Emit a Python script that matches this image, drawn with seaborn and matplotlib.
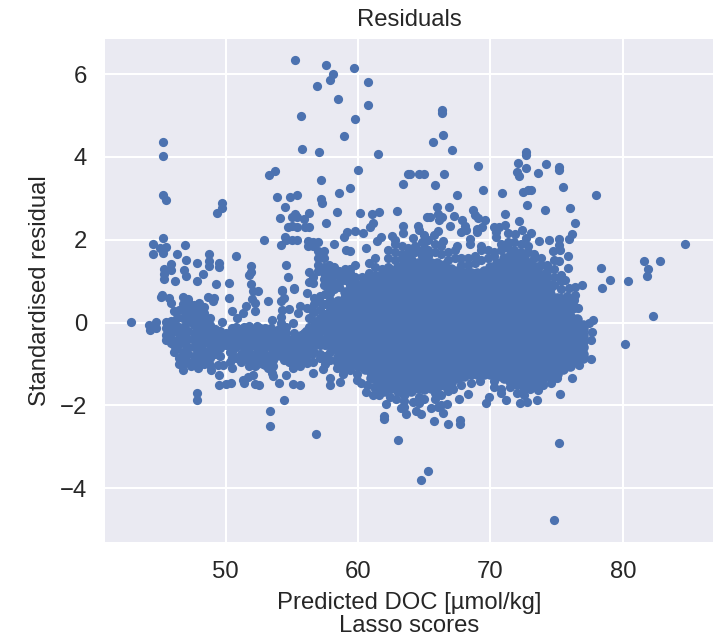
import matplotlib
matplotlib.use("Agg")
import matplotlib.pyplot as plt
import pandas as pd
import seaborn as sns

# Isolated points
outlier_x = [55.21,57.62,59.69,58.15,57.92,60.77,56.92,58.48,60.79,55.66,59.76,58.91,45.30,45.30,55.79,57.04,61.50,53.25,53.77,60.01,63.79,57.17,63.36,59.41,58.60,55.38,54.83,53.90,45.30,45.52,57.17,57.30,49.70,49.77,49.32,54.48,58.45,56.31,60.16,62.98,61.02,61.55,55.23,54.98,55.36,54.13,55.94,57.62,61.14,60.89,63.36,54.73,54.98,55.36,55.99,56.29,59.81,59.16,58.96,60.39,63.36,54.48,54.60,54.98,55.36,54.18,52.87,45.30,44.54,44.54,45.04,45.47,45.30,46.93,46.35,46.98,47.84,48.77,48.77,48.77,49.52,49.52,50.78,45.87,45.37,45.87,45.37,45.37,46.18,46.86,47.03,47.84,48.29,49.27,50.23,51.89,51.89,51.79,51.91,54.53,54.75,56.29,56.29,54.28,55.16,58.2,59.13,59.38,60.59,61.40,61.77,62.53,62.78,
66.33,66.33,66.43,65.67,67.08,72.69,72.69,72.09,74.18,72.67,75.18,75.18,69.07,72.04,72.16,73.62,63.89,64.64,65.02,66.53,65.80,67.46,69.40,70.86,72.47,72.82,73.07,75.51,78.0,72.74,74.14,75.99,65.95,66.86,68.67,71.08,65.22,65.45,66.03,66.33,66.15,67.26,68.84,69.04,69.55,69.37,67.86,68.11,66.98,72.16,76.39,64.52,64.64,66.03,65.77,67.79,68.16,68.99,68.99,70.30,70.68,71.06,70.43,70.43,72.36,71.33,71.86,73.07,72.69,76.14,75.91,75.16,73.70,74.45,75.21,75.28,64.16,65.0,65.0,68.49,68.49,66.45,67.48,69.32,71.07,74.70,74.83,75.21,75.84,75.84,78.33,79.06,80.42,81.57,81.87,81.85,82.83,84.72,78.43,76.94,76.39,75.91,75.66,
42.86,44.24,44.29,44.74,44.74,45.12,45.17,45.75,45.92,46.1,46.81,47.18,48.69,49.14,49.07,50.25,50.5,49.70,50.88,51.58,51.33,51.96,52.21,52.26,52.09,52.47,53.19,54.25,54.43,54.18,54.25,54.18,54.78,55.16,53.47,55.64,55.49,55.11,56.16,56.16,
46.78,47.43,47.93,48.87,49.52,49.52,50.03,50.40,50.45,49.45,49.82,51.33,51.41,51.71,52.04,52.21,52.54,53.52,53.60,54.03,54.58,55.11,55.61,55.11,55.61,56.16,56.62,56.64,57.85,58.63,57.87,58.88,57.37,59.89,60.59,61.14,62.10,63.26,63.61,61.97,61.97,63.03,47.81,47.81,54.43,53.37,53.37,56.84,
82.30,80.14,77.75,77.6,76.67,76.14,75.26,73.55,72.74,72.26,71.18,69.92,69.67,68.29,67.61,66.70,67.71,67.71,66.78,65.75,64.77,64.39,65.27,64.79,75.18,74.80,65.52,66.02,66.40,64.13,64.64,73.57,73.19,76.59,76.21,75.91,76.39,75.21,77.47,77.67,77.6]
outlier_y = [6.34,6.21,6.16,6.01,5.87,5.80,5.71,5.39,5.25,4.99,4.91,4.50,4.36,4.03,4.19,4.12,4.07,3.56,3.65,3.68,3.60,3.44,3.35,3.25,3.13,3.09,3.04,3.04,3.09,2.95,2.98,2.88,2.90,2.76,2.64,2.79,2.68,2.65,2.65,2.70,2.63,2.67,2.62,2.56,2.56,2.53,2.50,2.41,2.40,2.31,2.34,2.31,2.34,2.30,2.30,2.30,2.21,2.18,2.06,2.16,2.16,2.06,2.0,2.0,2.0,1.88,1.99,2.04,1.89,1.65,1.80,1.82,1.69,1.88,1.66,1.50,1.43,1.66,1.48,1.36,1.43,1.35,1.60,1.41,1.29,1.27,1.17,1.06,1.0,1.27,1.12,1.0,1.18,0.94,0.96,1.37,1.23,1.14,0.94,1.39,1.10,0.99,1.23,0.79,0.84,1.89,1.76,1.72,1.79,1.98,2.07,2.10,1.99,
5.14,5.06,4.53,4.37,4.16,4.13,4.05,3.86,3.82,3.74,3.75,3.69,3.79,3.63,3.54,3.61,3.59,3.59,3.59,3.59,3.33,3.07,3.21,3.13,3.15,3.21,3.2,3.27,3.09,2.85,2.72,2.76,2.78,2.78,2.72,2.63,2.56,2.55,2.62,2.56,2.48,2.58,2.60,2.52,2.48,2.32,2.47,2.34,2.34,2.45,2.40,2.34,2.24,2.21,2.12,2.18,2.24,2.26,2.19,2.30,2.30,2.36,2.20,2.06,2.24,2.16,2.14,2.16,2.04,2.14,2.01,2.02,1.97,2.0,1.88,1.76,2.04,2.12,1.92,2.02,1.89,1.96,1.86,1.84,1.85,1.72,1.52,1.48,1.60,1.33,1.33,1.02,1.01,1.48,1.30,1.12,1.48,1.89,0.83,0.9,0.87,0.83,1.03,
0.01,-0.07,-0.18,0.02,-0.12,0.63,0.67,0.59,0.47,0.27,0.63,0.57,0.63,0.59,0.51,0.6,0.27,0.02,0.10,0.39,0.23,0.57,0.47,0.27,0.77,0.77,0.52,0.77,0.59,0.52,0.31,0.14,0.33,0.81,0.06,0.41,0.23,-0.02,0.72,0.35,
-1.15,-1.05,-1.10,-1.14,-1.26,-1.51,-1.48,-1.45,-1.10,-1.02,-1.02,-1.38,-1.47,-1.32,-1.26,-1.49,-1.51,-1.22,-1.28,-1.47,-1.27,-1.49,-1.51,-1.10,-1.05,-0.98,-0.96,-1.22,-1.51,-1.43,-1.34,-1.14,-1.13,-1.38,-1.67,-1.76,-1.96,-2.06,-2.21,-2.25,-2.33,-2.84,-1.71,-1.88,-1.88,-2.13,-2.50,-2.70,
0.17,-0.51,0.06,-0.88,-1.02,-1.35,-1.72,-1.87,-1.93,-1.95,-1.87,-1.79,-1.95,-1.72,-1.84,-1.96,-2.35,-2.45,-2.44,-2.38,-2.21,-2.13,-3.59,-3.81,-2.90,-4.77,-2.07,-2.03,-2.19,-1.91,-1.95,-1.63,-1.55,0.35,0.43,0.29,0.67,0.59,-0.02,-0.22,-0.42]

# Band of moderately dense points left of the main cloud
band_x = [45.5,45.9,46.3,46.8,47.2,47.6,48.0,48.4,48.8,49.2,49.6,50.0,50.5,51.0,51.4,51.8,52.2,52.6,53.0,53.4,53.8,54.2,54.6,55.0,55.4,55.9,56.3,56.7,57.1,57.5,57.9,
 46.1,46.5,50.3,50.8,51.2,51.6,52.0,52.4,52.8,53.2,53.6,54.0,54.4,54.8,55.2,55.7,56.1,56.5]
band_y = [
 [0.02,-0.12,-0.3,-0.42],
 [0.05,-0.1,-0.25,-0.4,-0.5],
 [0.12,-0.08,-0.22,-0.42,-0.58],
 [0.45,0.3,0.1,-0.1,-0.3,-0.5,-0.7,-0.88,-1.0],
 [0.5,0.35,0.2,0.02,-0.2,-0.4,-0.6,-0.75,-0.95],
 [0.42,0.3,0.12,-0.05,-0.25,-0.42,-0.6,-0.8,-0.98],
 [0.48,0.3,0.15,0,-0.18,-0.35,-0.55,-0.72,-0.9],
 [0.38,0.22,0.05,-0.12,-0.3,-0.5,-0.68,-0.85,-1.0],
 [0.1,-0.05,-0.2,-0.38,-0.55,-0.7,-0.85,-1.02],
 [-0.15,-0.3,-0.45,-0.6,-0.75],
 [-0.2,-0.35,-0.5,-0.62,-0.8],
 [-0.25,-0.4,-0.55],
 [-0.12,-0.25,-0.4,-0.55,-0.72,-0.85],
 [-0.15,-0.3,-0.42],
 [-0.1,-0.25,-0.4,-0.7,-0.85],
 [-0.08,-0.22,-0.38,-0.72,-0.92,-1.05],
 [-0.2,-0.35,-0.5,-0.75,-0.9,-1.05],
 [-0.12,-0.3,-0.45,-0.6,-0.8,-0.95],
 [-0.12,-0.28,-0.42,-0.58,-0.75,-0.9,-1.02],
 [-0.12,-0.3,-0.45,-0.6,-0.78,-0.95,-1.1],
 [-0.3,-0.45,-0.62,-0.8],
 [-0.02,-0.2,-0.35,-0.48,-0.62,-0.8],
 [-0.1,-0.25,-0.4,-0.55],
 [-0.4,-0.55,-0.7,-0.85],
 [-0.35,-0.5,-0.65,-0.8],
 [-0.25,-0.4,-0.55,-0.7],
 [0.1,-0.1,-0.3,-0.45,-0.6],
 [0.6,0.45,0.25,0.05,-0.1,-0.25,-0.4,-0.55,-0.7],
 [0.65,0.5,0.3,0.12,-0.05,-0.22,-0.4,-0.55,-0.75,-0.85],
 [0.7,0.45,0.2,0,-0.2,-0.4,-0.55,-0.8,-1.0],
 [0.72,0.55,0.3,0.1,-0.1,-0.3,-0.5,-0.7,-0.9],
 [-0.7,-0.55],
 [0.3,-0.85,-1.0],
 [-0.95,-0.7],
 [-0.6,-0.85,-0.1],
 [-0.55,-0.75,-0.95],
 [-0.55,-0.9],
 [-0.55,-0.88,-1.0],
 [-0.62,-0.85,-1.0,-0.08],
 [-0.22,-0.7,-1.0],
 [-0.35,-0.5,-0.85,-1.1],
 [-0.2,-0.7,-0.9,-1.05],
 [-0.15,-0.55,-0.72],
 [-0.7,-0.9],
 [-0.65,-0.8,-0.95],
 [-0.25,-0.55,-0.75,-0.95],
 [-0.3,-0.6,-0.75,-0.9],
 [-0.2,-0.5,-0.72,-0.88],
 [0.3,-0.75],
]

# Fringe points around the main cloud
fringe_x = [56.2,56.6,57.0,57.4,57.8,58.2,58.6,59.0,59.4,59.8,60.3,60.8,61.3,61.8,62.3,62.8,63.3,63.8,64.3,64.8,65.3,65.8,66.3,66.8,67.3,67.8,68.3,68.8,69.3,69.8,70.3,70.8,71.3,71.8,72.3,72.8,73.3,73.8,74.3,74.8,75.3,75.8,76.3,
 58.4,58.9,59.4,59.9,60.2,60.7,61.2,61.6,62.4,62.9,63.5,64.6,65.0,65.8,66.3,66.8,67.2,67.8,68.5,69.2,70.3,70.8,71.5,72.0,72.5,73.0,74.0,74.6,75.0]
fringe_y = [[1.98,1.85],[1.95,1.85,1.1,0.95],[1.95,1.72,1.55,1.4,1.25],[1.72,1.55,1.35,1.2,1.05,0.9],[1.4,1.25,1.05,0.85],[1.35,1.15,0.95,0.8],[1.25,1.12,0.95,0.85],[1.3,1.15,1.02],[1.3,1.2,1.0,0.9],[1.4,1.1,0.95],[1.1],[1.45,1.2],[1.55,1.35,1.15],[1.3,1.2],[1.75,1.55,1.35],[1.9,1.7,1.5],[1.85,1.65,1.55],[1.8,1.65],[1.85,1.7],[1.95,1.75,1.6],[2.0,1.75,1.6],[1.9,1.7],[1.85,1.65],[1.7,1.5],[1.75,1.55],[1.55,1.4],[1.55,1.4],[1.6,1.45],[1.75,1.5],[1.75,1.55],[1.7,1.6],[1.9,1.75],[1.95,1.8],[1.95,1.75],[1.9,1.7],[1.85,1.7],[1.65,1.55],[1.55,1.4],[1.4,1.25,1.1],[1.3,1.1,0.9],[1.15,1.0,0.8,0.6],[0.65,0.5,0.3],[0.55,0.35],
 [-0.95,-1.1],[-1.05,-1.25],[-1.15],[-1.25],[-1.45],[-1.5],[-1.55],[-1.6,-1.75],[-1.8],[-1.85],[-1.9,-2.05],[-1.8],[-1.85],[-1.7,-1.85],[-1.75,-2.0],[-1.65],[-1.6],[-1.5],[-1.45],[-1.4],[-1.4,-1.55],[-1.6,-1.7],[-1.55],[-1.5,-1.7],[-1.6,-1.75],[-1.6],[-1.5],[-1.45],[-1.35]]

# Main cloud, estimated from its solid outline
cloud_x = [58.0,58.5,59.0,59.5,60.0,60.5,61.0,61.5,62.0,62.5,63.0,63.5,64.0,64.5,65.0,65.5,66.0,66.5,67.0,67.5,68.0,68.5,69.0,69.5,70.0,70.5,71.0,71.5,72.0,72.5,73.0,73.5,74.0,74.5,75.0,75.5,76.0,76.5,77.0]
cloud_y = [
 [-0.6,-0.45,-0.3,-0.15,0,0.15,0.3,0.45],
 [-0.82,-0.67,-0.52,-0.37,-0.22,-0.07,0.08,0.23,0.38,0.53],
 [-0.9,-0.75,-0.6,-0.45,-0.3,-0.15,0,0.15,0.3,0.45,0.6,0.75],
 [-0.97,-0.82,-0.67,-0.52,-0.37,-0.22,-0.07,0.08,0.23,0.38,0.53,0.68,0.83],
 [-1.05,-0.9,-0.75,-0.6,-0.45,-0.3,-0.15,0,0.15,0.3,0.45,0.6,0.75,0.9],
 [-1.12,-0.97,-0.82,-0.67,-0.52,-0.37,-0.22,-0.07,0.08,0.23,0.38,0.53,0.68,0.83,0.98],
 [-1.35,-1.2,-1.05,-0.9,-0.75,-0.6,-0.45,-0.3,-0.15,0,0.15,0.3,0.45,0.6,0.75,0.9,1.05],
 [-1.42,-1.27,-1.12,-0.97,-0.82,-0.67,-0.52,-0.37,-0.22,-0.07,0.08,0.23,0.38,0.53,0.68,0.83,0.98,1.1],
 [-1.65,-1.5,-1.35,-1.2,-1.05,-0.9,-0.75,-0.6,-0.45,-0.3,-0.15,0,0.15,0.3,0.45,0.6,0.75,0.9,1.05,1.15],
 [-1.57,-1.42,-1.27,-1.12,-0.97,-0.82,-0.67,-0.52,-0.37,-0.22,-0.07,0.08,0.23,0.38,0.53,0.68,0.83,0.98,1.13,1.28],
 [-1.65,-1.5,-1.35,-1.2,-1.05,-0.9,-0.75,-0.6,-0.45,-0.3,-0.15,0,0.15,0.3,0.45,0.6,0.75,0.9,1.05,1.2,1.35],
 [-1.72,-1.57,-1.42,-1.27,-1.12,-0.97,-0.82,-0.67,-0.52,-0.37,-0.22,-0.07,0.08,0.23,0.38,0.53,0.68,0.83,0.98,1.13,1.28,1.43],
 [-1.65,-1.5,-1.35,-1.2,-1.05,-0.9,-0.75,-0.6,-0.45,-0.3,-0.15,0,0.15,0.3,0.45,0.6,0.75,0.9,1.05,1.2,1.35,1.5],
 [-1.57,-1.42,-1.27,-1.12,-0.97,-0.82,-0.67,-0.52,-0.37,-0.22,-0.07,0.08,0.23,0.38,0.53,0.68,0.83,0.98,1.13,1.28,1.43],
 [-1.6,-1.5,-1.35,-1.2,-1.05,-0.9,-0.75,-0.6,-0.45,-0.3,-0.15,0,0.15,0.3,0.45,0.6,0.75,0.9,1.05,1.2,1.35,1.45],
 [-1.57,-1.42,-1.27,-1.12,-0.97,-0.82,-0.67,-0.52,-0.37,-0.22,-0.07,0.08,0.23,0.38,0.53,0.68,0.83,0.98,1.13,1.28,1.43],
 [-1.55,-1.35,-1.2,-1.05,-0.9,-0.75,-0.6,-0.45,-0.3,-0.15,0,0.15,0.3,0.45,0.6,0.75,0.9,1.05,1.2,1.35,1.45],
 [-1.5,-1.42,-1.27,-1.12,-0.97,-0.82,-0.67,-0.52,-0.37,-0.22,-0.07,0.08,0.23,0.38,0.53,0.68,0.83,0.98,1.13,1.28,1.4],
 [-1.45,-1.35,-1.2,-1.05,-0.9,-0.75,-0.6,-0.45,-0.3,-0.15,0,0.15,0.3,0.45,0.6,0.75,0.9,1.05,1.2,1.3],
 [-1.35,-1.27,-1.12,-0.97,-0.82,-0.67,-0.52,-0.37,-0.22,-0.07,0.08,0.23,0.38,0.53,0.68,0.83,0.98,1.13,1.25],
 [-1.3,-1.2,-1.05,-0.9,-0.75,-0.6,-0.45,-0.3,-0.15,0,0.15,0.3,0.45,0.6,0.75,0.9,1.05,1.2],
 [-1.25,-1.12,-0.97,-0.82,-0.67,-0.52,-0.37,-0.22,-0.07,0.08,0.23,0.38,0.53,0.68,0.83,0.98,1.13,1.2],
 [-1.25,-1.2,-1.05,-0.9,-0.75,-0.6,-0.45,-0.3,-0.15,0,0.15,0.3,0.45,0.6,0.75,0.9,1.05,1.2],
 [-1.25,-1.12,-0.97,-0.82,-0.67,-0.52,-0.37,-0.22,-0.07,0.08,0.23,0.38,0.53,0.68,0.83,0.98,1.13,1.25],
 [-1.25,-1.2,-1.05,-0.9,-0.75,-0.6,-0.45,-0.3,-0.15,0,0.15,0.3,0.45,0.6,0.75,0.9,1.05,1.2,1.35],
 [-1.3,-1.12,-0.97,-0.82,-0.67,-0.52,-0.37,-0.22,-0.07,0.08,0.23,0.38,0.53,0.68,0.83,0.98,1.13,1.28,1.45],
 [-1.35,-1.2,-1.05,-0.9,-0.75,-0.6,-0.45,-0.3,-0.15,0,0.15,0.3,0.45,0.6,0.75,0.9,1.05,1.2,1.35,1.55],
 [-1.4,-1.27,-1.12,-0.97,-0.82,-0.67,-0.52,-0.37,-0.22,-0.07,0.08,0.23,0.38,0.53,0.68,0.83,0.98,1.13,1.28,1.43,1.6],
 [-1.4,-1.2,-1.05,-0.9,-0.75,-0.6,-0.45,-0.3,-0.15,0,0.15,0.3,0.45,0.6,0.75,0.9,1.05,1.2,1.35,1.5,1.6],
 [-1.45,-1.27,-1.12,-0.97,-0.82,-0.67,-0.52,-0.37,-0.22,-0.07,0.08,0.23,0.38,0.53,0.68,0.83,0.98,1.13,1.28,1.43,1.55],
 [-1.45,-1.35,-1.2,-1.05,-0.9,-0.75,-0.6,-0.45,-0.3,-0.15,0,0.15,0.3,0.45,0.6,0.75,0.9,1.05,1.2,1.35,1.45],
 [-1.4,-1.27,-1.12,-0.97,-0.82,-0.67,-0.52,-0.37,-0.22,-0.07,0.08,0.23,0.38,0.53,0.68,0.83,0.98,1.13,1.28,1.35],
 [-1.35,-1.2,-1.05,-0.9,-0.75,-0.6,-0.45,-0.3,-0.15,0,0.15,0.3,0.45,0.6,0.75,0.9,1.05,1.15],
 [-1.3,-1.12,-0.97,-0.82,-0.67,-0.52,-0.37,-0.22,-0.07,0.08,0.23,0.38,0.53,0.68,0.83,0.9],
 [-1.25,-1.05,-0.9,-0.75,-0.6,-0.45,-0.3,-0.15,0,0.15,0.3,0.45,0.6],
 [-1.12,-0.97,-0.82,-0.67,-0.52,-0.37,-0.22,-0.07,0.08,0.23,0.38],
 [-1.05,-0.9,-0.75,-0.6,-0.45,-0.3,-0.15,0,0.15],
 [-0.95,-0.82,-0.67,-0.52,-0.37,-0.22,-0.07,0.08],
 [-0.85,-0.75,-0.6,-0.45,-0.3,-0.15,-0.05],
]

title_text = "Residuals"
x_label = "Predicted DOC [µmol/kg]\nLasso scores"
y_label = "Standardised residual"
x_ticks = [50, 60, 70, 80]
y_ticks = [-4, -2, 0, 2, 4, 6]

xs = list(outlier_x)
ys = list(outlier_y)
for col_x, col_y in zip(band_x + fringe_x, band_y + fringe_y):
    xs.extend([col_x] * len(col_y))
    ys.extend(col_y)
df = pd.DataFrame({"pred": xs, "resid": ys})

cx = []
cy = []
for col_x, col_y in zip(cloud_x, cloud_y):
    cx.extend([col_x] * len(col_y))
    cy.extend(col_y)
df_cloud = pd.DataFrame({"pred": cx, "resid": cy})

sns.set_theme(style="darkgrid", font_scale=1.3)
plt.rcParams["font.family"] = ["Liberation Sans", "DejaVu Sans"]
plt.rcParams["grid.linewidth"] = 1.5

fig = plt.figure(figsize=(7.2, 6.37), dpi=100)
ax = fig.add_axes([105 / 720, 1 - 542 / 637, (713 - 105) / 720, (542 - 39) / 637])
sns.scatterplot(data=df_cloud, x="pred", y="resid", ax=ax, color="#4c72b0", s=58,
                linewidth=0, alpha=1, legend=False)
sns.scatterplot(data=df, x="pred", y="resid", ax=ax, color="#4c72b0", s=44,
                linewidth=0, alpha=1, legend=False)
ax.set_xlim(40.9, 86.8)
ax.set_ylim(-5.3, 6.85)
ax.set_xticks(x_ticks)
ax.set_yticks(y_ticks)
ax.tick_params(labelsize=17.2, pad=7)
ax.tick_params(axis="x", pad=8)
ax.set_title(title_text, fontsize=17.2, pad=9.5)
ax.set_xlabel(x_label, fontsize=17.2, labelpad=6, linespacing=1.05)
ax.set_ylabel(y_label, fontsize=17.2, labelpad=6)
for s in ax.spines.values():
    s.set_visible(False)
fig.savefig("out.png", dpi=100)
